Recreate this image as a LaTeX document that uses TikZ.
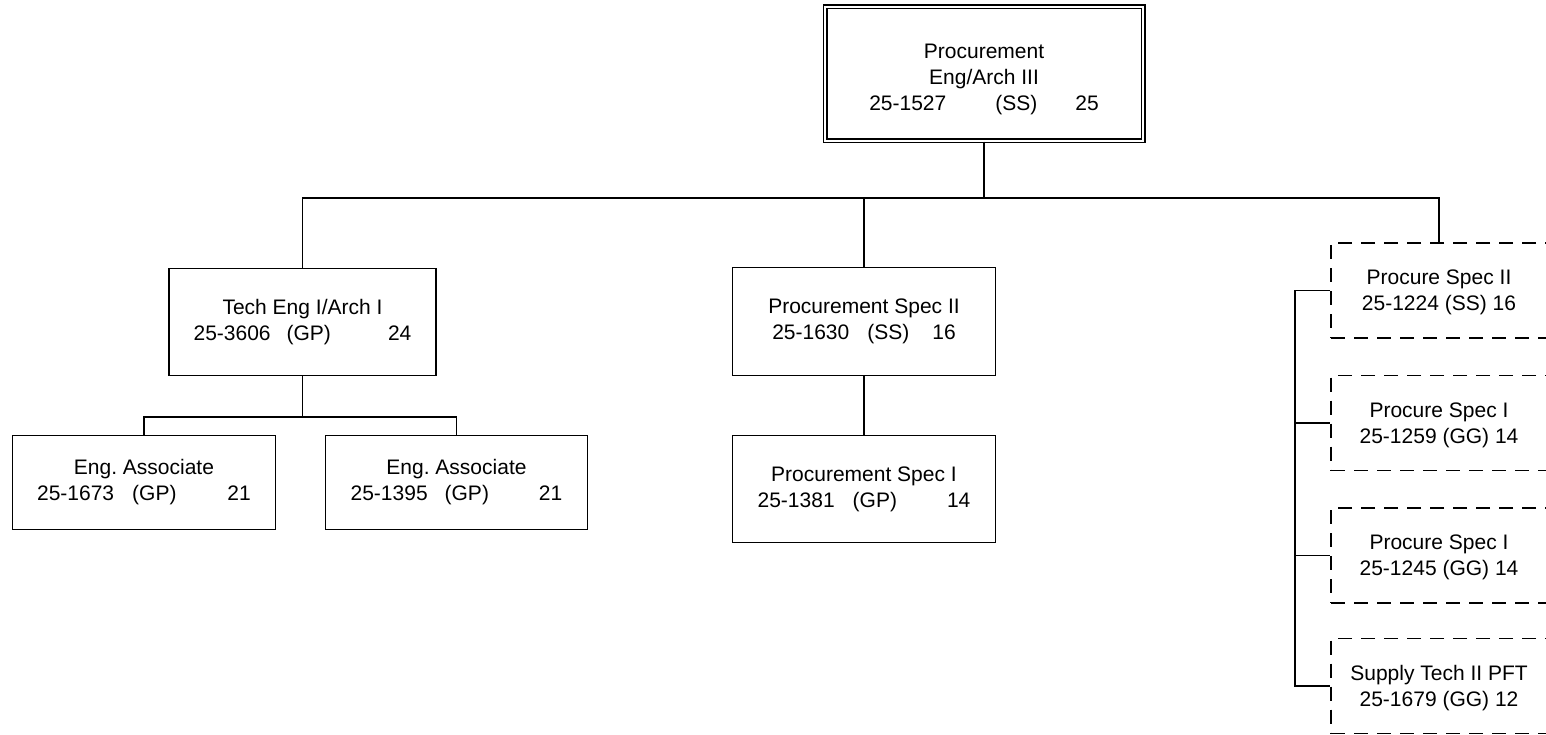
\documentclass[tikz,border=0pt]{standalone}
\usepackage{fontspec}
\setmainfont{Liberation Sans}
\newcommand{\topstrut}{\rule{0pt}{26pt}}
\newcommand{\dstrut}{\rule{0pt}{19pt}}
\begin{document}
\frenchspacing
\begin{tikzpicture}[x=1pt,y=-1pt,
  every node/.style={font=\fontsize{21}{26}\selectfont},
  box/.style={draw, line width=1.8pt, rectangle, inner sep=0pt, align=center},
  topbox/.style={draw, line width=1.2pt, double, double distance=2.6pt, rectangle, inner sep=0pt, align=center, minimum width=318pt, minimum height=134pt},
  dbox/.style={draw, line width=1.8pt, dash pattern=on 14pt off 9pt, rectangle, inner sep=0pt, align=center, minimum width=216pt, minimum height=95pt},
  conn/.style={line width=1.8pt}]
\useasboundingbox (0,0) rectangle (1546,735);
\fill[white] (0,0) rectangle (1546,735);
\clip (0,0) rectangle (1546,735);

\node[topbox] (top) at (984,74) {\topstrut Procurement\\Eng/Arch III\\25-1527\hspace{49pt}(SS)\hspace{38pt}25};

\node[box, minimum width=267pt, minimum height=107pt] (te) at (302.5,322) {Tech Eng I/Arch I\\25-3606\hspace{16pt}(GP)\hspace{57pt}24};
\node[box, minimum width=263pt, minimum height=108pt] (ps2) at (864,321.5) {Procurement Spec II\\25-1630\hspace{18pt}(SS)\hspace{23pt}16};
\node[box, minimum width=263pt, minimum height=107pt] (ps1) at (864,489) {Procurement Spec I\\25-1381\hspace{18pt}(GP)\hspace{50pt}14};
\node[box, minimum width=263pt, minimum height=94pt] (ea1) at (144,482.5) {Eng. Associate\\25-1673\hspace{18pt}(GP)\hspace{51pt}21};
\node[box, minimum width=262pt, minimum height=94pt] (ea2) at (456.5,482.5) {Eng. Associate\\25-1395\hspace{17pt}(GP)\hspace{50pt}21};

\node[dbox] (pd1) at (1439,290.5) {\dstrut Procure Spec II\\25-1224 (SS) 16};
\node[dbox] (pd2) at (1439,423) {\dstrut Procure Spec I\\25-1259 (GG) 14};
\node[dbox] (pd3) at (1439,555.5) {\dstrut Procure Spec I\\25-1245 (GG) 14};
\node[dbox] (pd4) at (1439,686) {\dstrut Supply Tech II PFT\\25-1679 (GG) 12};

\coordinate (bus) at (0,198);
\coordinate (sub) at (0,417);
\coordinate (vx) at (1295,0);

\draw[conn] (top.south) -- (top.south |- bus);
\draw[conn] (te.north) -- (te.north |- bus) -- (pd1.north |- bus) -- (pd1.north);
\draw[conn] (ps2.north |- bus) -- (ps2.north);
\draw[conn] (ps2.south) -- (ps1.north);
\draw[conn] (te.south) -- (te.south |- sub);
\draw[conn] (ea1.north) -- (ea1.north |- sub) -- (ea2.north |- sub) -- (ea2.north);
\draw[conn] (pd1.west) -- (pd1.west -| vx) -- (pd4.west -| vx) -- (pd4.west);
\draw[conn] (pd2.west -| vx) -- (pd2.west);
\draw[conn] (pd3.west -| vx) -- (pd3.west);
\end{tikzpicture}
\end{document}
